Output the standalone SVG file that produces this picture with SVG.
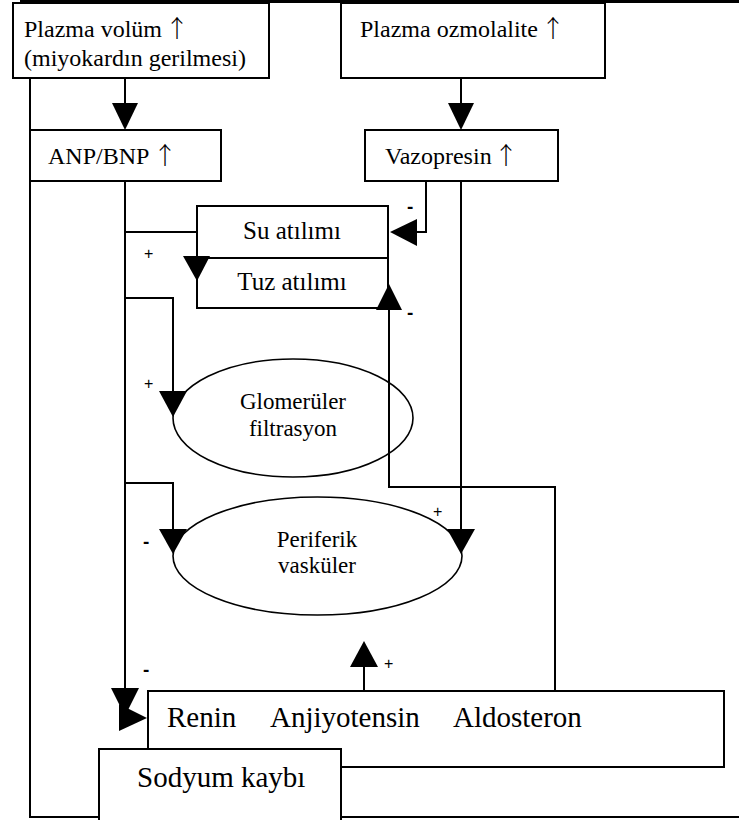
<svg xmlns="http://www.w3.org/2000/svg" width="739" height="820" viewBox="0 0 739 820">
<style>
.box{fill:#fff;stroke:#000;stroke-width:2}
.ell{fill:none;stroke:#000;stroke-width:1.6}
.ln{fill:none;stroke:#000;stroke-width:2}
.ah{fill:#000;stroke:none}
.t{font-family:"Liberation Serif","Times New Roman","Noto Sans CJK JP",serif;fill:#000}
.up{font-family:"Noto Sans CJK JP","Noto Sans CJK SC",sans-serif;font-weight:300}
.s23{font-size:23px}
.s24{font-size:24px}
.s25{font-size:25px}
.s29{font-size:29px}
.lab{font-family:"Liberation Sans",Arial,sans-serif;font-size:16px;fill:#000}
.neg{font-family:"Liberation Sans",Arial,sans-serif;font-size:19px;font-weight:bold;fill:#000}
</style>
<rect width="739" height="820" fill="#fff"/>
<line x1="20" y1="1.5" x2="739" y2="1.5" stroke="#000" stroke-width="3"/>

<g id="plazma-volum">
  <rect class="box" x="13" y="3" width="256" height="75"/>
  <text class="t s24" x="24" y="37">Plazma volüm<tspan class="up" x="165">↑</tspan></text>
  <text class="t s24" x="24" y="66">(miyokardın gerilmesi)</text>
</g>
<g id="plazma-ozmolalite">
  <rect class="box" x="341" y="3" width="264" height="75"/>
  <text class="t s24" x="360" y="37">Plazma ozmolalite<tspan class="up" x="541">↑</tspan></text>
</g>
<g id="anp">
  <rect class="box" x="30" y="130" width="191" height="51"/>
  <text class="t s24" x="48" y="164">ANP/BNP<tspan class="up" x="153">↑</tspan></text>
</g>
<g id="vazopresin">
  <rect class="box" x="365" y="130" width="193" height="51"/>
  <text class="t s24" x="385" y="164">Vazopresin<tspan class="up" x="494">↑</tspan></text>
</g>
<g id="su">
  <rect class="box" x="197" y="206" width="191" height="52"/>
  <text class="t s25" x="292" y="239" text-anchor="middle">Su atılımı</text>
</g>
<g id="tuz">
  <rect class="box" x="197" y="258" width="191" height="50"/>
  <text class="t s25" x="292" y="290" text-anchor="middle">Tuz atılımı</text>
</g>
<g id="glomeruler">
  <ellipse class="ell" cx="293" cy="418" rx="120" ry="59"/>
  <text class="t s23" x="293" y="409" text-anchor="middle">Glomerüler</text>
  <text class="t s23" x="293" y="436" text-anchor="middle">filtrasyon</text>
</g>
<g id="periferik">
  <ellipse class="ell" cx="317.5" cy="556" rx="144.5" ry="59"/>
  <text class="t s23" x="317" y="547" text-anchor="middle">Periferik</text>
  <text class="t s23" x="317" y="573" text-anchor="middle">vasküler</text>
</g>
<g id="raa">
  <rect class="box" x="148" y="691" width="576" height="76"/>
  <text class="t s29" y="727"><tspan x="167">Renin</tspan><tspan x="270">Anjiyotensin</tspan><tspan x="453">Aldosteron</tspan></text>
</g>

<g id="connectors">
  <polyline class="ln" points="30,78 30,817 739,817"/>
  <line class="ln" x1="125" y1="78" x2="125" y2="105"/>
  <polygon class="ah" points="112,103 138,103 125,130"/>
  <line class="ln" x1="461" y1="78" x2="461" y2="105"/>
  <polygon class="ah" points="448,103 474,103 461,130"/>
  <line class="ln" x1="125" y1="181" x2="125" y2="690"/>
  <polygon class="ah" points="111,688 139,688 125,716"/>
  <polygon class="ah" points="119,704 119,731 147,718"/>
  <line class="ln" x1="125" y1="232" x2="197" y2="232"/>
  <polygon class="ah" points="183,256 210,256 197,281"/>
  <polyline class="ln" points="125,298 173,298 173,393"/>
  <polygon class="ah" points="159,391 187,391 173,417"/>
  <polyline class="ln" points="125,483 173,483 173,531"/>
  <polygon class="ah" points="159,529 187,529 173,554"/>
  <polyline class="ln" points="426,181 426,232 415,232"/>
  <polygon class="ah" points="390,232 417,219 417,246"/>
  <line class="ln" x1="461" y1="181" x2="461" y2="531"/>
  <polygon class="ah" points="447,529 475,529 461,554"/>
  <polyline class="ln" points="555,691 555,487 389,487 389,308"/>
  <polygon class="ah" points="376,310 402,310 389,284"/>
  <line class="ln" x1="364" y1="691" x2="364" y2="665"/>
  <polygon class="ah" points="350,667 378,667 364,641"/>
  <text class="neg" x="407" y="213">-</text>
  <text class="lab" x="144" y="259">+</text>
  <text class="neg" x="407" y="319">-</text>
  <text class="lab" x="144" y="389">+</text>
  <text class="neg" x="143" y="548">-</text>
  <text class="lab" x="433" y="517">+</text>
  <text class="lab" x="384" y="669">+</text>
  <text class="neg" x="143" y="676">-</text>
</g>

<g id="sodyum">
  <rect class="box" x="99" y="749" width="242" height="80"/>
  <text class="t s29" x="137" y="787">Sodyum kaybı</text>
</g>
</svg>
